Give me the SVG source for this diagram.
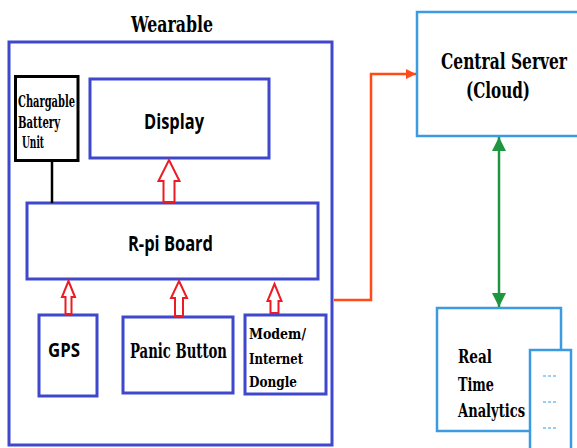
<svg xmlns="http://www.w3.org/2000/svg" width="577" height="448" viewBox="0 0 577 448">
<style>
.blue{fill:#fff;stroke:#3f48cc;stroke-width:3}
.lb{fill:#fff;stroke:#3c9be0;stroke-width:2.5}
.serif{font-family:'DejaVu Serif Condensed','DejaVu Serif',serif;font-stretch:condensed;font-weight:bold;fill:#000}
.sans{font-family:'Open Sans','Liberation Sans',sans-serif;font-weight:bold;fill:#000}
.harrow{fill:#fff;stroke:#ed1c24;stroke-width:2}
</style>
<defs>
<marker id="orh" viewBox="0 0 10 10" refX="10" refY="5" markerWidth="10" markerHeight="22" markerUnits="userSpaceOnUse" orient="auto"><path d="M0,0 L10,5 L0,10 Z" fill="#ff4a1a"/></marker>
<marker id="grh" viewBox="0 0 10 10" refX="10" refY="5" markerWidth="14" markerHeight="18" markerUnits="userSpaceOnUse" orient="auto-start-reverse"><path d="M0,0 L10,5 L0,10 Z" fill="#1e9640"/></marker>
</defs>
<rect width="577" height="448" fill="#fff"/>
<g id="wearable">
<rect class="blue" x="9" y="42" width="323" height="403"/>
<text class="serif" x="131" y="32" font-size="23" textLength="82" lengthAdjust="spacingAndGlyphs">Wearable</text>
</g>
<g id="battery">
<rect x="15.5" y="76.5" width="62.5" height="84" fill="#fff" stroke="#000" stroke-width="3"/>
<text class="serif" font-size="16"><tspan x="18" y="107" textLength="57" lengthAdjust="spacingAndGlyphs">Chargable</tspan></text>
<text class="serif" font-size="16"><tspan x="18" y="128" textLength="42" lengthAdjust="spacingAndGlyphs">Battery</tspan></text>
<text class="serif" font-size="16"><tspan x="22" y="148" textLength="22" lengthAdjust="spacingAndGlyphs">Unit</tspan></text>
</g>
<g id="display">
<rect class="blue" x="90" y="79" width="179" height="79"/>
<text class="sans" x="144" y="129" font-size="21" textLength="60" lengthAdjust="spacingAndGlyphs">Display</text>
</g>
<g id="rpi">
<rect class="blue" x="27" y="203" width="291" height="76"/>
<text class="sans" x="128" y="250.5" font-size="21" textLength="85" lengthAdjust="spacingAndGlyphs">R-pi Board</text>
</g>
<g id="gps">
<rect class="blue" x="39" y="315" width="58" height="81"/>
<text class="sans" x="48" y="357" font-size="20" textLength="32" lengthAdjust="spacingAndGlyphs">GPS</text>
</g>
<g id="panic">
<rect class="blue" x="123" y="317" width="110" height="76" stroke-width="4"/>
<text class="serif" x="130" y="358" font-size="20" textLength="97" lengthAdjust="spacingAndGlyphs">Panic Button</text>
</g>
<g id="modem">
<rect class="blue" x="245" y="315" width="81" height="79"/>
<text class="serif" font-size="15.5"><tspan x="249" y="339" textLength="57" lengthAdjust="spacingAndGlyphs">Modem/</tspan></text>
<text class="serif" font-size="15.5"><tspan x="249" y="364" textLength="54" lengthAdjust="spacingAndGlyphs">Internet</tspan></text>
<text class="serif" font-size="15.5"><tspan x="249" y="387" textLength="48" lengthAdjust="spacingAndGlyphs">Dongle</tspan></text>
</g>
<g id="server">
<rect class="lb" x="417" y="12" width="175" height="124"/>
<text class="serif" font-size="23"><tspan x="441" y="69" textLength="126" lengthAdjust="spacingAndGlyphs">Central Server</tspan></text>
<text class="serif" font-size="23"><tspan x="466" y="98" textLength="64" lengthAdjust="spacingAndGlyphs">(Cloud)</tspan></text>
</g>
<g id="analytics">
<rect class="lb" x="437" y="308" width="124" height="123"/>
<text class="serif" font-size="18.5"><tspan x="458" y="363" textLength="34" lengthAdjust="spacingAndGlyphs">Real</tspan></text>
<text class="serif" font-size="18.5"><tspan x="458" y="390.5" textLength="36" lengthAdjust="spacingAndGlyphs">Time</tspan></text>
<text class="serif" font-size="18.5"><tspan x="458" y="417" textLength="67" lengthAdjust="spacingAndGlyphs">Analytics</tspan></text>
<rect class="lb" x="530" y="350" width="41" height="110"/>
<g stroke="#3c9be0" stroke-width="1" stroke-dasharray="3,2">
<line x1="543" y1="376" x2="558" y2="376"/>
<line x1="543" y1="402" x2="558" y2="402"/>
<line x1="543" y1="428" x2="558" y2="428"/>
</g>
</g>
<g id="connectors">
<line x1="52" y1="161" x2="52" y2="203" stroke="#000" stroke-width="2.5"/>
<path class="harrow" d="M169,160 L179.5,181 L174.5,181 L174.5,202 L163.5,202 L163.5,181 L158.5,181 Z"/>
<path class="harrow" d="M68.5,281 L75,297 L71.5,297 L71.5,314 L65.5,314 L65.5,297 L62,297 Z"/>
<path class="harrow" d="M179,281 L187,298 L183,298 L183,316 L175,316 L175,298 L171,298 Z"/>
<path class="harrow" d="M274.5,284 L281.5,301 L278.5,301 L278.5,313 L270.5,313 L270.5,301 L267.5,301 Z"/>
<polyline points="334,300 371,300 371,74 416,74" fill="none" stroke="#ff4a1a" stroke-width="2.5" marker-end="url(#orh)"/>
<line x1="499" y1="137" x2="499" y2="307" stroke="#1e9640" stroke-width="2.5" marker-start="url(#grh)" marker-end="url(#grh)"/>
</g>
</svg>
